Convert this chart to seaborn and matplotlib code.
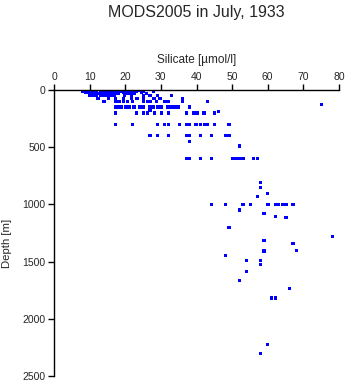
import matplotlib
matplotlib.use("Agg")
import matplotlib.pyplot as plt
import seaborn as sns
import pandas as pd

# Silicate values (umol/l) grouped by sampling depth (m)
si_0 = [8, 9, 10, 11, 12, 13, 14, 15, 16, 17, 18, 19, 20, 21, 22, 24]
si_10 = [8, 9.5, 11, 12, 13.5, 15, 16, 17.5, 19, 20, 21.5, 23, 25, 28]
si_20 = [9, 10, 11.5, 13, 14, 15, 16.5, 18, 19.5, 21, 22, 24.6]
si_30 = [10, 11, 12.5, 14, 15.5, 17, 18, 20, 21, 22.5, 26]
si_50 = [10, 11, 12, 13, 14, 15, 16, 17, 19.8, 21.7, 25.1, 26.9, 29, 33.0]
si_75 = [12.3, 15.3, 17.2, 19.5, 21.7, 23.3, 25.1, 28.1, 29.8, 36.1]
si_100 = [14.0, 17.2, 18.2, 19.5, 20.6, 22.1, 25.1, 26.2, 26.9, 28.8, 31.2, 32.1, 36.1, 43.1]
si_125 = [75.1]
si_150 = [17.2, 18, 19, 20, 21, 22.5, 24, 25, 27, 28, 29, 30, 32, 33, 34, 35, 38.0]
si_180 = [26.9]
si_190 = [46.1]
si_200 = [17.2, 23.1, 25.1, 26.2, 28.2, 30.1, 32.1, 37.2, 39.1, 40.1, 42.1, 45.0]
si_300 = [17.2, 22.0, 29.0, 31.0, 32.1, 35.2, 37.2, 38.0, 39.9, 41.2, 42.3, 43.1, 45.0, 49.1]
si_400 = [26.9, 29.0, 32.1, 37.2, 38.0, 41.2, 44.2, 48.2, 49.1]
si_450 = [38.0]
si_490 = [52.0]
si_600 = [37.2, 38.0, 41.2, 44.2, 50.2, 51.3, 52.0, 53.1, 56.0, 57.1]
si_1000 = [44.2, 48.1, 53.1, 55.1, 60.1, 62.1, 63.0, 64.1, 65.1, 67.1]

# Deep single observations
deep_si = [58.0, 58.0, 60.0, 57.1, 52.0, 59.0, 62.1, 65.1, 49.1, 78.1, 59.0, 67.1,
           68.0, 59.0, 48.1, 54.0, 58.0, 58.0, 54.0, 52.0, 66.1, 61.1, 62.1, 60.0, 58.0]
deep_depth = [807, 851, 903, 930, 1049, 1081, 1104, 1113, 1200, 1279, 1314, 1340,
              1401, 1407, 1445, 1489, 1489, 1524, 1585, 1664, 1737, 1818, 1818, 2223, 2302]

groups = [(0, si_0), (10, si_10), (20, si_20), (30, si_30), (50, si_50), (75, si_75),
          (100, si_100), (125, si_125), (150, si_150), (180, si_180), (190, si_190),
          (200, si_200), (300, si_300), (400, si_400), (450, si_450), (490, si_490),
          (600, si_600), (1000, si_1000)]

sil, dep = [], []
for d, vals in groups:
    sil += vals
    dep += [d] * len(vals)
sil += deep_si
dep += deep_depth
df = pd.DataFrame({"Silicate": sil, "Depth": dep})

x_ticks = [0, 10, 20, 30, 40, 50, 60, 70, 80]
y_ticks = [0, 500, 1000, 1500, 2000, 2500]

sns.set_style("ticks")
plt.rcParams["font.family"] = ["Liberation Sans", "DejaVu Sans"]

fig = plt.figure(figsize=(3.48, 3.84), dpi=100)
ax = fig.add_axes([54/348, 8/384, 285/348, 286/384])

sns.scatterplot(data=df, x="Silicate", y="Depth", ax=ax, marker="s", s=6,
                color="#0000ff", edgecolor="none", linewidth=0)

ax.set_xlim(0, 80)
ax.set_ylim(2500, 0)
ax.set_xticks(x_ticks)
ax.set_yticks(y_ticks)
ax.xaxis.tick_top()
ax.xaxis.set_label_position("top")
for s in ["right", "bottom"]:
    ax.spines[s].set_visible(False)
for s in ["top", "left"]:
    ax.spines[s].set_linewidth(1.0)
    ax.spines[s].set_color("black")
ax.tick_params(axis="both", length=4, width=1.0, labelsize=7.5, pad=2, color="black")

ax.set_xlabel("Silicate [µmol/l]", fontsize=8.5)
ax.set_ylabel("Depth [m]", fontsize=8.2)
ax.xaxis.set_label_coords(0.5, 1 + 30/286)
ax.xaxis.label.set_va("center")
ax.yaxis.set_label_coords(-47/285, (376-243)/286)
ax.yaxis.label.set_va("center")

fig.text(196/348, 1 - 13/384, "MODS2005 in July, 1933", ha="center", va="center", fontsize=11.5)

fig.savefig("out.png", dpi=100)
